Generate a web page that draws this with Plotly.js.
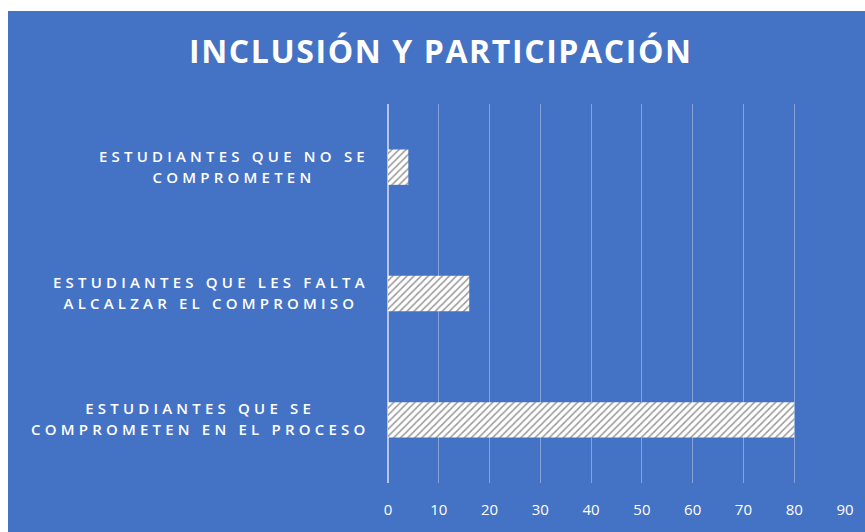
<!DOCTYPE html>
<html>
<head>
<meta charset="utf-8">
<script src="https://cdn.plot.ly/plotly-3.0.1.min.js"></script>
<style>
  html, body { margin: 0; padding: 0; background: #ffffff; width: 865px; height: 532px; overflow: hidden; }
  #chart { position: absolute; left: 8px; top: 11px; width: 857px; height: 521px; }
  .annotation-text { letter-spacing: 4.2px; }
  .gtitle { letter-spacing: 1.6px; }
</style>
</head>
<body>
<div id="chart"></div>
<script>
// Data (bottom to top, as in the reference)
const categoryKeys = ["c1", "c2", "c3"];
const categoryLabels = [
  "ESTUDIANTES QUE SE<br>COMPROMETEN EN EL PROCESO",
  "ESTUDIANTES QUE LES FALTA<br>ALCALZAR EL COMPROMISO",
  "ESTUDIANTES QUE NO SE<br>COMPROMETEN"
];
const values = [80, 16, 4];
const xTicks = [0, 10, 20, 30, 40, 50, 60, 70, 80, 90];
const chartTitle = "INCLUSIÓN Y PARTICIPACIÓN";

const blue = "#4472C4";

const trace = {
  type: "bar",
  orientation: "h",
  x: values,
  y: categoryKeys,
  marker: {
    color: "#ffffff",
    line: { width: 0 },
    pattern: { shape: "/", bgcolor: "#ffffff", fgcolor: "#9a9a9a", size: 5, solidity: 0.3 }
  },
  hoverinfo: "none"
};

const annotations = categoryKeys.map((k, i) => ({
  xref: "paper", yref: "y",
  x: -0.037, y: k,
  xanchor: "right", yanchor: "middle",
  align: "center",
  showarrow: false,
  yshift: 1.5,
  text: categoryLabels[i],
  font: { family: "Open Sans, sans-serif", size: 15, weight: 600, color: "#ffffff" }
}));

const layout = {
  width: 857, height: 521,
  paper_bgcolor: blue,
  plot_bgcolor: blue,
  margin: { l: 380, r: 20, t: 93, b: 49, pad: 0 },
  showlegend: false,
  bargap: 0.72,
  title: {
    text: "<b>" + chartTitle + "</b>",
    xref: "container", yref: "container",
    x: 0.505, y: 0.921, xanchor: "center", yanchor: "middle",
    font: { family: "Open Sans, sans-serif", size: 32, color: "#ffffff" }
  },
  xaxis: {
    range: [0, 90],
    tickvals: xTicks,
    ticktext: xTicks.map(String),
    showgrid: true,
    gridcolor: "rgba(255,255,255,0.35)",
    gridwidth: 1,
    zeroline: true,
    zerolinecolor: "rgba(255,255,255,0.6)",
    zerolinewidth: 1.5,
    showline: false,
    ticks: "",
    ticklabelstandoff: 16,
    tickfont: { family: "Open Sans, sans-serif", size: 15, color: "#ffffff" },
    fixedrange: true
  },
  yaxis: {
    type: "category",
    categoryorder: "array",
    categoryarray: categoryKeys,
    range: [-0.5, 2.5],
    showticklabels: false,
    showgrid: false,
    zeroline: false,
    showline: false,
    ticks: "",
    fixedrange: true
  },
  annotations: annotations
};

Plotly.newPlot("chart", [trace], layout, { displayModeBar: false, staticPlot: true }).then(() => {
  // widen the line spacing of the two-line category labels
  document.querySelectorAll(".annotation-text tspan.line").forEach(t => {
    const dy = t.getAttribute("dy");
    if (dy && parseFloat(dy) > 0) t.setAttribute("dy", "1.4em");
  });
});
</script>
</body>
</html>
